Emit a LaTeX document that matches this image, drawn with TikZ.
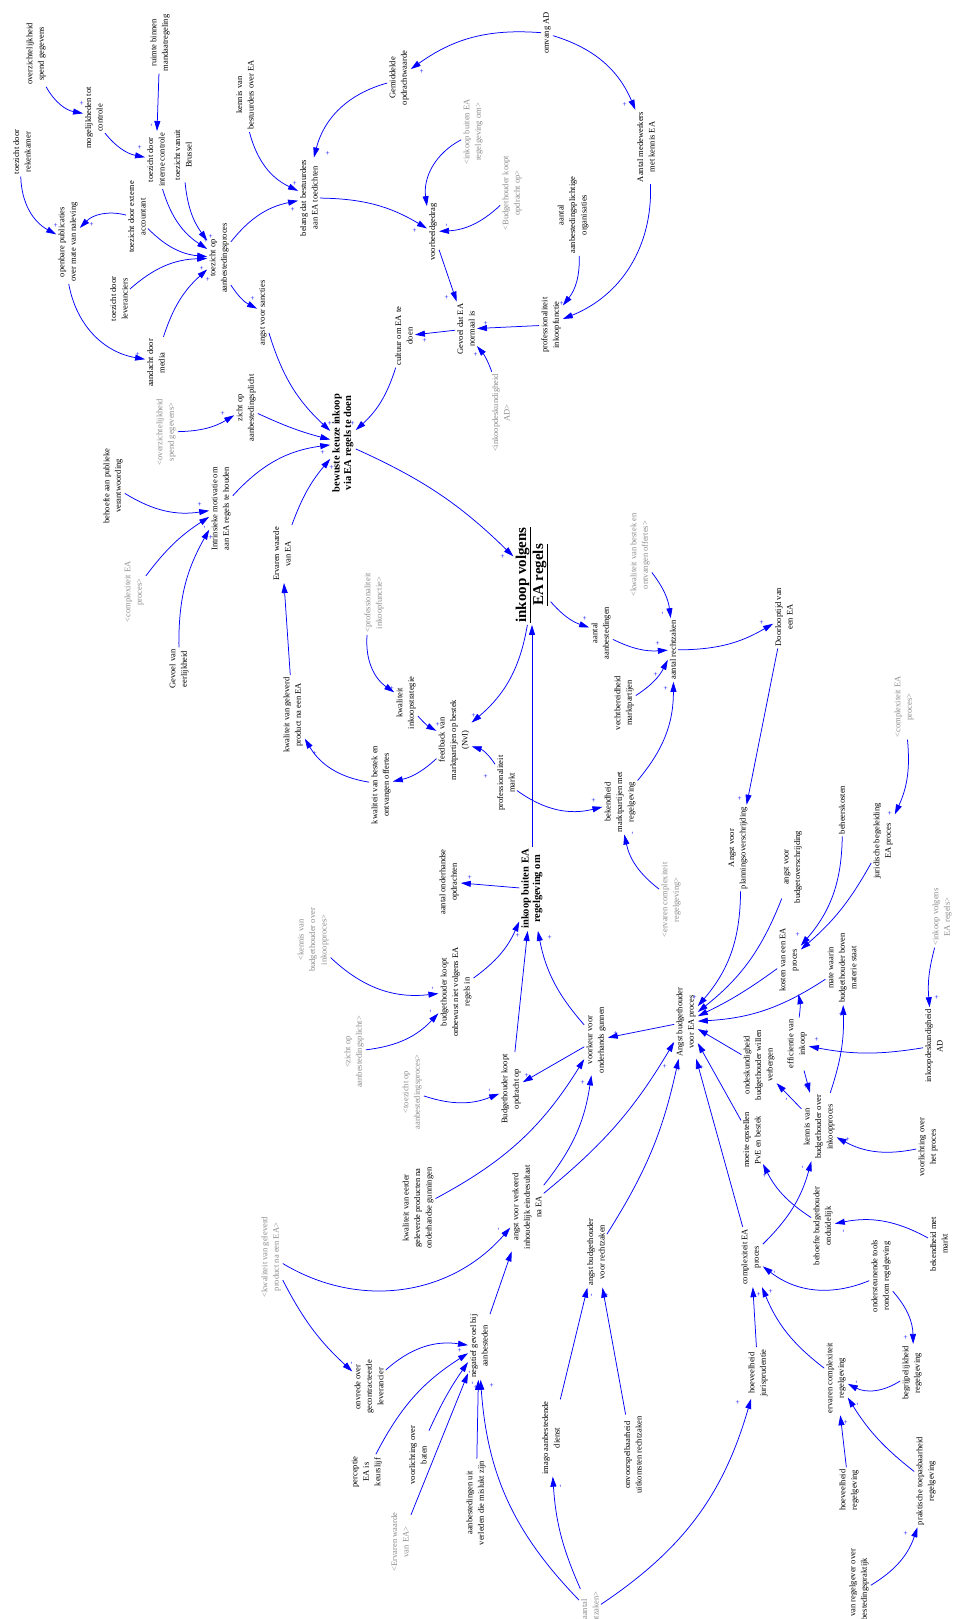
\documentclass[tikz,border=0pt]{standalone}
\usepackage{fontspec}
\setmainfont{Liberation Serif}
\usetikzlibrary{arrows.meta}
\definecolor{arrblue}{RGB}{0,0,255}
\definecolor{shgray}{RGB}{140,140,140}
\newcommand{\thickul}[1]{\leavevmode\vtop{\hbox{#1}\kern0.8pt\hrule height 1.3pt}}
\begin{document}
\begin{tikzpicture}[x=1pt,y=1pt,
 v/.style={rotate=90, align=center, font=\fontsize{8.5}{11.5}\selectfont, inner sep=2pt},
 sh/.style={v, text=shgray},
 bd/.style={v, font=\bfseries\fontsize{10.5}{11.5}\selectfont},
 lnk/.style={draw=arrblue, line width=0.75pt, -{Triangle[length=10pt,width=6pt]}},
 pol/.style={rotate=90, text=arrblue, font=\fontsize{7.5}{7.5}\selectfont, inner sep=0pt}]
\useasboundingbox (0,0) rectangle (957,-1619);
% nodes
\node[v] (ovz) at (36,-54) {overzichtelijkheid\\spend gegevens};
\node[v] (mog) at (94,-118) {mogelijkheden tot\\controle};
\node[v] (ruim) at (160,-43) {ruimte binnen\\mandaatregeling};
\node[v] (tic) at (156,-160) {toezicht door\\interne controle};
\node[v] (tvb) at (183,-155) {toezicht vanuit\\Brussel};
\node[v] (trk) at (22,-152) {toezicht door\\rekenkamer};
\node[v] (tea) at (137,-217) {toezicht door externe\\accountant};
\node[v] (opub) at (68,-242) {openbare publicaties\\over mate van naleving};
\node[v] (toa) at (219,-258) {toezicht op\\aanbestedingsproces};
\node[v] (tlev) at (119,-299) {toezicht door\\leveranciers};
\node[v] (media) at (156,-363) {aandacht door\\media};
\node[v] (sanc) at (263,-313) {angst voor sancties};
\node[v] (kbes) at (245,-95) {kennis van\\bestuurders over EA};
\node[v] (belang) at (309,-198) {belang dat bestuurders\\aan EA toedichten};
\node[v] (omv) at (547,-33) {omvang AD};
\node[v] (gem) at (399,-78) {Gemiddelde\\opdrachtwaarde};
\node[sh] (sbuiten) at (473,-132) {<inkoop buiten EA\\regelgeving om>};
\node[sh] (sbkoopt) at (512,-193) {<Budgethouder koopt\\opdracht op>};
\node[v] (voorb) at (433,-232) {voorbeeldgedrag};
\node[v] (aao) at (573,-215) {aantal\\aanbestedingsplichtige\\organisaties};
\node[v] (amed) at (646,-147) {Aantal medewerkers\\met kennis EA};
\node[v] (gevnorm) at (466,-329) {Gevoel dat EA\\normaal is};
\node[v] (cult) at (404,-336) {cultuur om EA te\\doen};
\node[v] (prof) at (551,-325) {professionaliteit\\inkoopfunctie};
\node[sh] (sdeskAD) at (501,-413) {<inkoopdeskundigheid\\AD>};
\node[sh] (sovz) at (166,-432) {<overzichtelijkheid\\spend gegevens>};
\node[v] (zicht) at (246,-408) {zicht op\\aanbestedingsplicht};
\node[v] (bpub) at (113,-486) {behoefte aan publieke\\verantwoording};
\node[v] (intr) at (221,-509) {Intrinsieke motivatie om\\aan EA regels te houden};
\node[sh] (scomp1) at (134,-592) {<complexiteit EA\\proces>};
\node[v] (eerl) at (179,-669) {Gevoel van\\eerlijkheid};
\node[v] (erv) at (282,-554) {Ervaren waarde\\van EA};
\node[v] (kwprod) at (293,-715) {kwaliteit van geleverd\\product na een EA};
\node[bd] (bewust) at (343,-443) {bewuste keuze inkoop\\via EA regels te doen};
\node[v, font=\bfseries\fontsize{15}{17}\selectfont] (volg) at (532,-575) {\thickul{inkoop volgens}\\\thickul{EA regels}};
\node[sh] (sprof) at (374,-603) {<professionaliteit\\inkoopfunctie>};
\node[v] (kwstrat) at (406,-703) {kwaliteit\\inkoopstrategie};
\node[v] (feed) at (454,-740) {feedback van\\marktpartijen op bestek\\(NvI)};
\node[v] (kwbestek) at (381,-785) {kwaliteit van bestek en\\ontvangen offertes};
\node[v] (profm) at (506,-783) {professionaliteit\\markt};
\node[v] (aanb) at (601,-633) {aantal\\aanbestedingen};
\node[v] (bekmp) at (620,-802) {bekendheid\\marktpartijen met\\regelgeving};
\node[sh] (skwbestek) at (640,-555) {<kwaliteit van bestek en\\ontvangen offertes>};
\node[v] (vecht) at (624,-703) {vechtbereidheid\\marktpartijen};
\node[v] (recht) at (673,-650) {aantal rechtzaken};
\node[v] (door) at (784,-617) {Doorlooptijd van\\een EA};
\node[sh] (scomp2) at (904,-707) {<complexiteit EA\\proces>};
\node[v] (beheer) at (842,-810) {beheerskosten};
\node[v] (jur) at (883,-841) {juridische begeleiding\\EA proces};
\node[v] (aplan) at (738,-848) {Angst voor\\planningsoverschrijding};
\node[v] (abud) at (793,-867) {angst voor\\budgetoverschrijding};
\node[v] (kosten) at (789,-960) {kosten van een EA\\proces};
\node[v] (mate) at (842,-968) {mate waarin\\budgethouder boven\\materie staat};
\node[sh] (svolg) at (942,-917) {<inkoop volgens\\EA regels>};
\node[v] (angst) at (686,-1022) {Angst budgethouder\\voor EA proces};
\node[v] (eff) at (797,-1044) {efficientie van\\inkoop};
\node[v] (ondes) at (759,-1065) {ondeskundigheid\\budgethouder willen\\verbergen};
\node[v] (deskAD) at (934,-1046) {inkoopdeskundigheid\\AD};
\node[v] (kbh) at (819,-1127) {kennis van\\budgethouder over\\inkoopproces};
\node[v] (moeite) at (752,-1140) {moeite opstellen\\PvE en bestek};
\node[v] (vlproc) at (928,-1147) {voorlichting over\\het proces};
\node[sh] (servc) at (671,-900) {<ervaren complexiteit\\regelgeving>};
\node[v] (aond) at (449,-882) {aantal onderhandse\\opdrachten};
\node[bd] (buiten) at (532,-889) {inkoop buiten EA\\regelgeving om};
\node[sh] (skbh) at (313,-940) {<kennis van\\budgethouder over\\inkoopproces>};
\node[v] (onbew) at (456,-992) {budgethouder koopt\\onbewust niet volgens EA\\regels in};
\node[sh] (szicht) at (354,-1052) {<zicht op\\aanbestedingsplicht>};
\node[sh] (stoa) at (412,-1092) {<toezicht op\\aanbestedingsproces>};
\node[v] (bkoopt) at (511,-1089) {Budgethouder koopt\\opdracht op};
\node[v] (voork) at (596,-1040) {voorkeur voor\\onderhands gunnen};
\node[v] (kweerder) at (418,-1208) {kwaliteit van eerder\\geleverde producten na\\onderhandse gunningen};
\node[v] (averk) at (527,-1207) {angst voor verkeerd\\inhoudelijk eindresultaat\\na EA};
\node[v] (arecht) at (596,-1252) {angst budgethouder\\voor rechtzaken};
\node[sh] (skwprod) at (271,-1257) {<kwaliteit van geleverd\\product na een EA>};
\node[v] (onvr) at (369,-1387) {onvrede over\\gecontracteerde\\leverancier};
\node[v] (neg) at (479,-1346) {negatief gevoel bij\\aanbesteden};
\node[v] (perc) at (367,-1472) {perceptie\\EA is\\keurslijf};
\node[v] (vlbaten) at (418,-1455) {voorlichting over\\baten};
\node[sh] (serv) at (400,-1542) {<Ervaren waarde\\van EA>};
\node[v] (misl) at (476,-1503) {aanbestedingen uit\\verleden die mislukt zijn};
\node[v] (imago) at (551,-1438) {imago aanbestedende\\dienst};
\node[v] (onvoor) at (633,-1455) {onvoorspelbaarheid\\uitkomsten rechtzaken};
\node[sh] (srecht) at (590,-1612) {<aantal\\rechtzaken>};
\node[v] (compl) at (751,-1257) {complexiteit EA\\proces};
\node[v] (behbh) at (823,-1226) {behoefte budgethouder\\onduidelijk};
\node[v] (bekm) at (939,-1244) {bekendheid met\\markt};
\node[v] (onders) at (881,-1276) {ondersteunende tools\\rondom regelgeving};
\node[v] (jurisp) at (758,-1373) {hoeveelheid\\jurisprudentie};
\node[v] (ervc) at (836,-1378) {ervaren complexiteit\\regelgeving};
\node[v] (begr) at (912,-1373) {begrijpelijkheid\\regelgeving};
\node[v] (hoevr) at (849,-1490) {hoeveelheid\\regelgeving};
\node[v] (prakt) at (926,-1481) {praktische toepasbaarheid\\regelgeving};
\node[v] (kreg) at (859,-1595) {kennis van regelgever over\\aanbestedingspraktijk};
% links
\draw[lnk] (ovz) to[bend right=25] (mog);
\draw[lnk] (mog) to[bend right=20] (tic);
\draw[lnk] (ruim) -- (tic);
\draw[lnk] (trk) to[bend right=30] (opub);
\draw[lnk] (tea) to[bend right=30] (opub);
\draw[lnk] (tea) to[bend right=20] (toa);
\draw[lnk] (tic) to[bend right=20] (toa);
\draw[lnk] (tvb) to[bend right=15] (toa);
\draw[lnk] (tlev) to[bend left=20] (toa);
\draw[lnk] (media) to[bend left=15] (toa);
\draw[lnk] (opub) to[bend right=35] (media);
\draw[lnk] (toa) to[bend left=20] (belang);
\draw[lnk] (toa) to[bend right=15] (sanc);
\draw[lnk] (kbes) to[bend right=25] (belang);
\draw[lnk] (gem) to[bend right=30] (belang);
\draw[lnk] (omv) to[bend right=20] (gem);
\draw[lnk] (omv) to[bend left=25] (amed);
\draw[lnk] (amed) to[bend left=35] (prof);
\draw[lnk] (aao) to[bend left=20] (prof);
\draw[lnk] (belang) to[bend left=15] (voorb);
\draw[lnk] (sbuiten) to[bend right=35] (voorb);
\draw[lnk] (sbkoopt) to[bend left=20] (voorb);
\draw[lnk] (voorb) -- (gevnorm);
\draw[lnk] (prof) -- (gevnorm);
\draw[lnk] (sdeskAD) to[bend right=10] (gevnorm);
\draw[lnk] (gevnorm) -- (cult);
\draw[lnk] (cult) to[bend left=15] (bewust);
\draw[lnk] (sanc) to[bend right=15] (bewust);
\draw[lnk] (zicht) to[bend right=5] (bewust);
\draw[lnk] (sovz) to[bend right=15] (zicht);
\draw[lnk] (intr) to[bend left=20] (bewust);
\draw[lnk] (erv) to[bend left=10] (bewust);
\draw[lnk] (bpub) to[bend right=20] (intr);
\draw[lnk] (scomp1) to[bend left=10] (intr);
\draw[lnk] (eerl) to[bend left=15] (intr);
\draw[lnk] (kwprod) -- (erv);
\draw[lnk] (kwbestek) to[bend left=25] (kwprod);
\draw[lnk] (feed) to[bend left=15] (kwbestek);
\draw[lnk] (kwstrat) to[bend right=10] (feed);
\draw[lnk] (sprof) to[bend right=30] (kwstrat);
\draw[lnk] (bewust) to[bend left=10] (volg);
\draw[lnk] (volg) to[bend left=20] (feed);
\draw[lnk] (volg) to[bend right=15] (aanb);
\draw[lnk] (buiten) -- (volg);
\draw[lnk] (profm) to[bend right=20] (feed);
\draw[lnk] (profm) to[bend right=25] (bekmp);
\draw[lnk] (aanb) to[bend right=15] (recht);
\draw[lnk] (vecht) to[bend right=15] (recht);
\draw[lnk] (bekmp) to[bend right=20] (recht);
\draw[lnk] (skwbestek) to[bend left=15] (recht);
\draw[lnk] (recht) to[bend right=15] (door);
\draw[lnk] (door) -- (aplan);
\draw[lnk] (servc) to[bend left=20] (bekmp);
\draw[lnk] (scomp2) to[bend left=15] (jur);
\draw[lnk] (beheer) to[bend left=20] (kosten);
\draw[lnk] (jur) to[bend left=10] (kosten);
\draw[lnk] (aplan) to[bend left=20] (angst);
\draw[lnk] (abud) to[bend left=15] (angst);
\draw[lnk] (kosten) to[bend left=5] (angst);
\draw[lnk] (mate) to[bend left=15] (angst);
\draw[lnk] (ondes) -- (angst);
\draw[lnk] (eff) to[bend right=10] (kosten);
\draw[lnk] (deskAD) to[bend left=10] (eff);
\draw[lnk] (svolg) to[bend right=10] (deskAD);
\draw[lnk] (eff) -- (kbh);
\draw[lnk] (kbh) to[bend right=10] (mate);
\draw[lnk] (kbh) -- (ondes);
\draw[lnk] (vlproc) to[bend left=20] (kbh);
\draw[lnk] (moeite) -- (angst);
\draw[lnk] (behbh) to[bend left=15] (moeite);
\draw[lnk] (compl) to[bend right=15] (kbh);
\draw[lnk] (bekm) to[bend right=20] (behbh);
\draw[lnk] (compl) -- (angst);
\draw[lnk] (onders) to[bend left=30] (compl);
\draw[lnk] (onders) to[bend left=20] (begr);
\draw[lnk] (jurisp) -- (compl);
\draw[lnk] (ervc) to[bend left=15] (compl);
\draw[lnk] (begr) to[bend left=30] (ervc);
\draw[lnk] (hoevr) -- (ervc);
\draw[lnk] (prakt) to[bend left=10] (ervc);
\draw[lnk] (kreg) to[bend right=20] (prakt);
\draw[lnk] (srecht) to[bend right=20] (jurisp);
\draw[lnk] (srecht) to[bend left=10] (imago);
\draw[lnk] (srecht) to[bend left=20] (neg);
\draw[lnk] (imago) -- (arecht);
\draw[lnk] (onvoor) -- (arecht);
\draw[lnk] (arecht) to[bend right=10] (angst);
\draw[lnk] (averk) to[bend right=15] (voork);
\draw[lnk] (averk) to[bend right=10] (angst);
\draw[lnk] (angst) -- (voork);
\draw[lnk] (voork) to[bend left=15] (buiten);
\draw[lnk] (voork) -- (bkoopt);
\draw[lnk] (bkoopt) -- (buiten);
\draw[lnk] (onbew) to[bend right=15] (buiten);
\draw[lnk] (skbh) to[bend right=25] (onbew);
\draw[lnk] (szicht) to[bend right=20] (onbew);
\draw[lnk] (stoa) to[bend right=20] (bkoopt);
\draw[lnk] (buiten) -- (aond);
\draw[lnk] (kweerder) to[bend right=15] (voork);
\draw[lnk] (neg) -- (averk);
\draw[lnk] (skwprod) to[bend right=40] (averk);
\draw[lnk] (skwprod) to[bend right=10] (onvr);
\draw[lnk] (onvr) to[bend left=25] (neg);
\draw[lnk] (perc) to[bend left=15] (neg);
\draw[lnk] (vlbaten) to[bend left=5] (neg);
\draw[lnk] (serv) -- (neg);
\draw[lnk] (misl) -- (neg);
% polarities
\foreach \px/\py/\ps [count=\k] in {82/103/+, 140/147/+, 152/125/-, 56/225/+, 92/224/+, 206/240/+, 211/236/+, 199/256/+, 202/268/+, 208/279/+, 253/298/+, 295/183/+, 293/209/+, 328/153/+, 138/354/+, 422/71/+, 625/104/+, 415/230/+, 447/225/-, 447/297/+, 486/323/+, 476/354/+, 425/340/+, 562/303/+, 223/413/+, 200/504/+, 211/537/+, 205/527/-, 284/592/+, 315/753/+, 330/423/+, 353/423/+, 323/452/+, 332/467/+, 503/556/+, 585/618/+, 533/635/-, 392/688/+, 438/724/+, 474/715/+, 399/780/+, 486/776/+, 594/800/+, 663/613/-, 658/643/+, 656/674/+, 666/688/+, 762/622/+, 740/798/+, 890/813/+, 633/833/-, 470/877/+, 518/935/+, 550/937/+, 433/988/-, 431/1011/-, 490/1090/-, 527/1075/+, 616/1033/+, 583/1082/+, 798/934/+, 695/997/+, 707/1031/+, 937/997/+, 817/1039/+, 806/1086/+, 787/1099/-, 841/1014/+, 848/1139/+, 803/1167/-, 765/1175/+, 665/1066/+, 679/1069/+, 702/1067/+, 499/1229/-, 352/1363/-, 460/1350/+, 470/1372/-, 476/1387/+, 473/1383/-, 492/1385/+, 592/1295/-, 607/1295/+, 561/1486/-, 844/1231/-, 775/1272/-, 759/1294/+, 771/1291/+, 906/1337/+, 738/1402/+, 857/1382/-, 858/1404/-, 846/1422/+, 906/1533/+}
  \node[pol] (pol\k) at (\px,-\py) {\ps};
\end{tikzpicture}
\end{document}
